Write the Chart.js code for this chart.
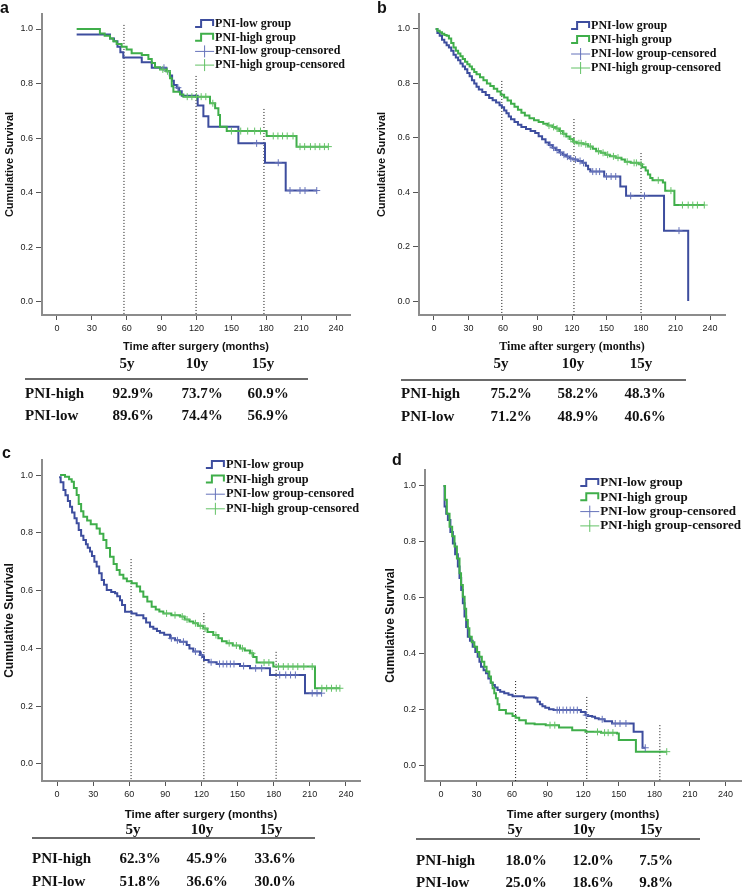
<!DOCTYPE html>
<html>
<head>
<meta charset="utf-8">
<script src="https://cdn.jsdelivr.net/npm/chart.js@4.4.0/dist/chart.umd.min.js"></script>
<style>
body{margin:0;width:746px;height:889px;background:#fff;position:relative;overflow:hidden;}
canvas{position:absolute;}
.t{position:absolute;white-space:nowrap;font:bold 15px "Liberation Serif",serif;color:#111;line-height:1;}
.lt{position:absolute;font:bold 16px "Liberation Sans",Arial,sans-serif;line-height:16px;color:#111;}
.rule{position:absolute;height:2px;background:#6a6a6a;}
</style>
</head>
<body>
<canvas id="pa" width="360" height="358" style="left:0px;top:2px"></canvas>
<canvas id="pb" width="360" height="358" style="left:375px;top:2px"></canvas>
<canvas id="pc" width="370" height="378" style="left:0px;top:448px"></canvas>
<canvas id="pd" width="363" height="368" style="left:383px;top:458px"></canvas>
<script>
// axis ticks and labels
var xTicks = [0, 30, 60, 90, 120, 150, 180, 210, 240];
var yTicks = [0, 0.2, 0.4, 0.6, 0.8, 1.0];
var seriesNames = ['PNI-low group', 'PNI-high group', 'PNI-low group-censored', 'PNI-high group-censored'];
var tableCols = ['5y', '10y', '15y'];
var tableRows = ['PNI-high', 'PNI-low'];

// panel a  [months, survival]
var aLow = [[16.9,0.98],[45.6,0.965],[49,0.955],[52,0.935],[54.5,0.915],[57,0.896],[72.9,0.878],[81.5,0.858],[94,0.845],[97,0.83],[99,0.81],[100.5,0.795],[103,0.785],[105,0.772],[107.3,0.755],[121,0.72],[125.9,0.68],[130.2,0.642],[156,0.581],[178.9,0.51],[196.7,0.408],[223.4,0.408]];
var aHigh = [[16.9,1.0],[36.9,0.984],[41,0.975],[45.6,0.965],[48.4,0.955],[51.3,0.945],[55.6,0.935],[59.9,0.925],[64.2,0.911],[72.9,0.905],[78.6,0.89],[81.5,0.875],[84.3,0.86],[88.6,0.852],[94.3,0.845],[97.2,0.82],[98.7,0.79],[100.1,0.77],[105.8,0.76],[108.7,0.752],[131.6,0.728],[136,0.71],[138.8,0.685],[140.2,0.642],[146,0.626],[180.3,0.608],[206,0.569],[233.4,0.569]];
var aLowCens = [[92,0.858],[104,0.785],[171.7,0.581],[190.3,0.51],[200.4,0.408],[209,0.408],[213.3,0.408],[223.4,0.408]];
var aHighCens = [[91,0.852],[95,0.845],[112,0.752],[116,0.752],[120,0.752],[124,0.752],[128,0.752],[134,0.728],[150,0.626],[158,0.626],[164,0.626],[170,0.626],[175,0.626],[186,0.608],[190,0.608],[194,0.608],[198,0.608],[203,0.608],[209,0.569],[213,0.569],[218,0.569],[222,0.569],[226,0.569],[230,0.569],[233.4,0.569]];
var aMarks = [[57.6,1.015],[119.6,0.828],[178,0.707]];
var aTable = [['92.9%','73.7%','60.9%'],['89.6%','74.4%','56.9%']];

// panel b
var bLow = [[1.5,1.0],[3,0.985],[5,0.975],[7,0.96],[9,0.95],[11,0.94],[13,0.932],[15,0.92],[17,0.905],[19,0.895],[21,0.885],[23,0.873],[25,0.862],[27,0.852],[29,0.838],[31,0.826],[33,0.812],[35,0.8],[37,0.788],[39,0.778],[42,0.768],[45,0.757],[48,0.746],[51,0.738],[54,0.73],[57,0.72],[59,0.712],[61,0.7],[63,0.69],[65,0.678],[67,0.668],[70,0.658],[73,0.648],[76,0.64],[80,0.632],[84,0.625],[88,0.618],[91,0.606],[94,0.595],[97,0.583],[100,0.574],[103,0.564],[106,0.555],[109,0.546],[112,0.538],[115,0.531],[118,0.524],[121,0.52],[125,0.515],[129,0.508],[132,0.497],[134,0.485],[136,0.476],[148,0.458],[162,0.421],[167,0.387],[200,0.259],[221,0.0]];
var bHigh = [[1.5,1.0],[3,0.993],[5,0.988],[7,0.982],[9,0.978],[11,0.975],[13,0.965],[15,0.948],[17,0.932],[19,0.92],[21,0.91],[23,0.9],[25,0.89],[27,0.88],[29,0.87],[31,0.862],[33,0.852],[35,0.842],[37,0.834],[40,0.823],[43,0.812],[46,0.8],[49,0.79],[52,0.78],[55,0.77],[58,0.758],[61,0.748],[64,0.737],[67,0.725],[70,0.714],[73,0.703],[76,0.692],[79,0.682],[83,0.672],[87,0.665],[91,0.658],[95,0.652],[99,0.645],[103,0.64],[106,0.634],[109,0.625],[112,0.615],[115,0.605],[118,0.596],[121,0.586],[124,0.58],[130,0.576],[134,0.568],[138,0.56],[141,0.551],[145,0.545],[149,0.538],[153,0.532],[158,0.527],[163,0.52],[166,0.512],[171,0.508],[178,0.503],[181,0.492],[184,0.48],[186,0.465],[188,0.452],[190,0.444],[199,0.436],[201,0.406],[209,0.353],[235,0.353]];
var bLowCens = [[101,0.574],[104,0.564],[107,0.555],[110,0.546],[113,0.538],[116,0.531],[119,0.524],[123,0.52],[127,0.515],[130,0.508],[138,0.476],[141,0.476],[144,0.476],[150,0.458],[154,0.458],[158,0.458],[171,0.387],[183,0.387],[213,0.259]];
var bHighCens = [[100,0.645],[104,0.64],[107,0.634],[110,0.625],[113,0.615],[119,0.596],[122,0.586],[126,0.58],[128,0.58],[132,0.576],[136,0.568],[143,0.551],[147,0.545],[151,0.538],[156,0.532],[160,0.527],[168,0.512],[174,0.508],[176,0.508],[180,0.503],[195,0.444],[206,0.406],[216,0.353],[221,0.353],[225,0.353],[229,0.353],[235,0.353]];
var bMarks = [[59,0.809],[121.7,0.669],[180,0.544]];
var bTable = [['75.2%','58.2%','48.3%'],['71.2%','48.9%','40.6%']];

// panel c
var cLow = [[1.7,0.992],[3,0.975],[5.3,0.948],[7,0.93],[9,0.91],[10.8,0.89],[12.5,0.87],[14.5,0.85],[16.3,0.833],[18,0.81],[20,0.79],[21.9,0.775],[24,0.76],[25.5,0.748],[27.4,0.735],[29,0.72],[31,0.7],[32.9,0.683],[35,0.66],[37.1,0.637],[39,0.62],[41.3,0.602],[45,0.595],[48.2,0.591],[50,0.58],[52.3,0.567],[54,0.55],[56.5,0.527],[62,0.521],[66,0.515],[71.7,0.504],[74,0.49],[77.2,0.475],[80,0.468],[83,0.46],[85.5,0.454],[89,0.447],[93.9,0.435],[98,0.428],[102.2,0.423],[107.7,0.412],[110,0.4],[113.2,0.389],[118.8,0.377],[121,0.37],[122.1,0.36],[126,0.352],[132.6,0.346],[152,0.339],[160.3,0.331],[176.9,0.308],[206,0.245],[219.8,0.245]];
var cHigh = [[2.5,1.0],[6.6,0.994],[10,0.985],[12.2,0.977],[14,0.955],[16.3,0.931],[18,0.9],[20,0.875],[21.9,0.856],[25,0.843],[28,0.83],[32.9,0.815],[35.5,0.797],[38.5,0.775],[41,0.747],[44,0.717],[47,0.692],[49.6,0.671],[52,0.655],[55.1,0.642],[58,0.632],[62,0.625],[66.2,0.614],[69,0.597],[71.7,0.579],[75,0.562],[78.6,0.544],[82,0.535],[85,0.528],[88.3,0.521],[95,0.515],[102.2,0.51],[106,0.5],[110,0.493],[113.2,0.487],[117,0.478],[121.5,0.469],[125,0.457],[129.8,0.446],[134,0.435],[137,0.425],[140.9,0.418],[146,0.41],[152,0.4],[156,0.393],[160.3,0.383],[163,0.37],[165.8,0.351],[179.7,0.337],[214.3,0.262],[235,0.262]];
var cLowCens = [[95,0.435],[100,0.428],[105,0.423],[115,0.389],[120,0.377],[128,0.352],[135,0.346],[138,0.346],[141,0.346],[144,0.346],[147,0.346],[155,0.339],[165,0.331],[170,0.331],[185,0.308],[190,0.308],[194,0.308],[198,0.308],[212,0.245],[216,0.245],[219.8,0.245]];
var cHighCens = [[91,0.521],[98,0.515],[104,0.51],[108,0.5],[115,0.487],[119,0.478],[123,0.469],[132,0.446],[143,0.418],[149,0.41],[154,0.4],[162,0.383],[172,0.351],[176,0.351],[184,0.337],[188,0.337],[192,0.337],[196,0.337],[200,0.337],[205,0.337],[212,0.337],[220,0.262],[224,0.262],[228,0.262],[232,0.262],[235,0.262]];
var cMarks = [[61.5,0.709],[122,0.522],[182,0.388]];
var cTable = [['62.3%','45.9%','33.6%'],['51.8%','36.6%','30.0%']];

// panel d
var dLow = [[2.2,1.0],[3.1,0.926],[4.5,0.9],[5.9,0.878],[8,0.835],[10.1,0.794],[12,0.755],[14.3,0.711],[15.7,0.67],[17.1,0.627],[18.5,0.58],[19.9,0.532],[21.3,0.495],[22.7,0.46],[24.5,0.445],[26.8,0.424],[29,0.405],[31,0.388],[32.5,0.37],[33.8,0.352],[36,0.34],[38,0.329],[40,0.31],[42,0.295],[43.6,0.287],[45.5,0.278],[47.8,0.269],[50,0.263],[53.4,0.257],[57,0.252],[60.4,0.247],[70,0.242],[80,0.239],[81.4,0.227],[83.5,0.218],[85.6,0.211],[88,0.205],[91.2,0.2],[95,0.197],[118,0.19],[121.9,0.179],[124,0.176],[127.5,0.173],[130,0.168],[133.1,0.164],[138,0.157],[144.3,0.149],[162.5,0.119],[170,0.062],[172.3,0.062]];
var dHigh = [[2.2,1.0],[3.5,0.95],[5,0.9],[7.3,0.854],[9.5,0.82],[11.5,0.783],[13.5,0.74],[15.7,0.687],[17,0.645],[18.5,0.603],[20,0.56],[21.3,0.52],[22.7,0.49],[24,0.46],[26,0.44],[28.2,0.424],[30.5,0.405],[32.4,0.388],[34.5,0.37],[36.6,0.352],[38.5,0.335],[40.8,0.317],[42.2,0.296],[43.6,0.275],[45,0.257],[46.4,0.239],[47.8,0.218],[49.2,0.197],[54.8,0.185],[60.4,0.176],[63,0.17],[66,0.161],[71.6,0.149],[79,0.146],[88.4,0.143],[99.6,0.135],[110.7,0.125],[121.9,0.119],[135,0.116],[148.5,0.113],[150,0.09],[163.9,0.09],[164.4,0.048],[190.4,0.048]];
var dLowCens = [[98,0.197],[100,0.197],[103,0.197],[106,0.197],[109,0.197],[112,0.197],[115,0.197],[122.5,0.179],[136,0.164],[147,0.149],[151,0.149],[156,0.149],[172.3,0.062]];
var dHighCens = [[92,0.143],[96,0.143],[132,0.119],[138,0.116],[141,0.116],[145,0.116],[190.4,0.048]];
var dMarks = [[63,0.301],[123,0.244],[184.6,0.143]];
var dTable = [['18.0%','12.0%','7.5%'],['25.0%','18.6%','9.8%']];

var blue = '#3d4d9e', green = '#3fae4a';
var blueC = '#6572ba', greenC = '#63c266';

function pts(arr) {
  return arr.map(function (p) { return {x: p[0], y: p[1]}; });
}

// legend drawn inside the plot, top right
var kmLegend = {
  id: 'kmLegend',
  afterDraw: function (chart, args, opts) {
    var ctx = chart.ctx, area = chart.chartArea;
    ctx.save();
    ctx.font = 'bold ' + opts.size + 'px "Liberation Serif"';
    var w = 0;
    opts.items.forEach(function (it) { w = Math.max(w, ctx.measureText(it.text).width); });
    var tx = area.right - opts.right - w;
    var ix = tx - 20;
    opts.items.forEach(function (it, i) {
      var y = area.top + opts.top + i * opts.rowH;
      ctx.strokeStyle = it.color;
      ctx.beginPath();
      if (it.kind === 'step') {
        ctx.lineWidth = 2;
        ctx.moveTo(ix, y + 3); ctx.lineTo(ix + 6, y + 3); ctx.lineTo(ix + 6, y - 4);
        ctx.lineTo(ix + 18, y - 4); ctx.lineTo(ix + 18, y + 2);
      } else {
        ctx.lineWidth = 1;
        ctx.moveTo(ix, y); ctx.lineTo(ix + 19, y);
        ctx.moveTo(ix + 9.5, y - 6); ctx.lineTo(ix + 9.5, y + 6);
      }
      ctx.stroke();
      ctx.fillStyle = '#111';
      ctx.textBaseline = 'middle';
      ctx.fillText(it.text, tx, y);
    });
    ctx.restore();
  }
};

var panels = [
  {id: 'pa', low: aLow, high: aHigh, lowC: aLowCens, highC: aHighCens, marks: aMarks,
   xmin: -12.9, xmax: 252, ymin: -0.048, ymax: 1.055, yw: 42, padR: 10,
   yTitle: {size: 11, pad: 3}, xTitle: {family: 'Liberation Sans', size: 11, pad: 6.4},
   legend: {top: 10, rowH: 13.7, right: 5, size: 12}},
  {id: 'pb', low: bLow, high: bHigh, lowC: bLowCens, highC: bHighCens, marks: bMarks,
   xmin: -13, xmax: 253, ymin: -0.051, ymax: 1.055, yw: 44, padR: 10,
   yTitle: {size: 11, pad: 0}, xTitle: {family: 'Liberation Serif', size: 12, pad: 5.8},
   legend: {top: 12, rowH: 14, right: 4, size: 12}},
  {id: 'pc', low: cLow, high: cHigh, lowC: cLowCens, highC: cHighCens, marks: cMarks,
   xmin: -12.5, xmax: 251.7, ymin: -0.059, ymax: 1.052, yw: 42, padR: 10,
   yTitle: {size: 12, pad: 2}, xTitle: {family: 'Liberation Sans', size: 11.5, pad: 4},
   legend: {top: 5, rowH: 14.6, right: 1, size: 12.3}},
  {id: 'pd', low: dLow, high: dHigh, lowC: dLowCens, highC: dHighCens, marks: dMarks,
   xmin: -13.4, xmax: 253, ymin: -0.057, ymax: 1.057, yw: 42, padR: 3,
   yTitle: {size: 12, pad: 0}, xTitle: {family: 'Liberation Sans', size: 11.5, pad: 4},
   legend: {top: 13, rowH: 14.3, right: 0, size: 13}}
];

panels.forEach(function (p) {
  var datasets = [
    {data: pts(p.highC), showLine: false, pointStyle: 'cross', pointRadius: 3.5, pointBorderColor: greenC, pointBorderWidth: 1},
    {data: pts(p.lowC), showLine: false, pointStyle: 'cross', pointRadius: 3.5, pointBorderColor: blueC, pointBorderWidth: 1},
    {data: pts(p.high), borderColor: green, borderWidth: 2, stepped: 'before', pointRadius: 0, fill: false},
    {data: pts(p.low), borderColor: blue, borderWidth: 2, stepped: 'before', pointRadius: 0, fill: false}
  ];
  p.marks.forEach(function (m) {
    datasets.push({data: [{x: m[0], y: m[1]}, {x: m[0], y: p.ymin}], borderColor: '#111',
      borderWidth: 1, borderDash: [1, 2], pointRadius: 0, fill: false});
  });

  new Chart(document.getElementById(p.id), {
    type: 'line',
    data: {datasets: datasets},
    options: {
      responsive: false,
      animation: false,
      events: [],
      layout: {padding: {top: 12, right: p.padR, left: 0, bottom: 0}},
      plugins: {
        legend: {display: false},
        tooltip: {enabled: false},
        kmLegend: {
          top: p.legend.top, rowH: p.legend.rowH, right: p.legend.right, size: p.legend.size,
          items: [
            {text: seriesNames[0], color: blue, kind: 'step'},
            {text: seriesNames[1], color: green, kind: 'step'},
            {text: seriesNames[2], color: blueC, kind: 'cross'},
            {text: seriesNames[3], color: greenC, kind: 'cross'}
          ]
        }
      },
      scales: {
        x: {
          type: 'linear', min: p.xmin, max: p.xmax,
          afterBuildTicks: function (axis) { axis.ticks = xTicks.map(function (v) { return {value: v}; }); },
          afterFit: function (s) { s.height = 45; },
          border: {display: true, color: '#8c8c8c', width: 2},
          grid: {display: true, drawOnChartArea: false, drawTicks: true, tickLength: 5, tickColor: '#555', tickWidth: 1},
          ticks: {font: {family: 'Liberation Sans', size: 9}, color: '#222', padding: 3, maxRotation: 0,
            callback: function (v) { return String(v); }},
          title: {display: true, text: 'Time after surgery (months)', color: '#111',
            font: {family: p.xTitle.family, size: p.xTitle.size, weight: 'bold'},
            padding: {top: 0, bottom: p.xTitle.pad}}
        },
        y: {
          type: 'linear', min: p.ymin, max: p.ymax,
          afterBuildTicks: function (axis) { axis.ticks = yTicks.map(function (v) { return {value: v}; }); },
          afterFit: function (s) { s.width = p.yw; },
          border: {display: true, color: '#8c8c8c', width: 2},
          grid: {display: true, drawOnChartArea: false, drawTicks: true, tickLength: 6, tickColor: '#555', tickWidth: 1},
          ticks: {font: {family: 'Liberation Sans', size: 9}, color: '#222', padding: 3,
            callback: function (v) { return v.toFixed(1); }},
          title: {display: true, text: 'Cumulative Survival', color: '#111',
            font: {family: 'Liberation Sans', size: p.yTitle.size, weight: 'bold'},
            padding: {top: p.yTitle.pad, bottom: 0}}
        }
      }
    },
    plugins: [kmLegend]
  });
});

// panel letters and the survival tables under each plot
var letters = [['a', 0, 0], ['b', 377, 0], ['c', 2, 445], ['d', 392, 452]];
var tableLayout = [
  {tbl: aTable, headY: 363, headX: [127, 197, 263], ruleY: 378, rule: [25, 308], rowY: [393, 415], nameX: 25, valX: [133, 202, 268]},
  {tbl: bTable, headY: 363, headX: [501, 573, 641], ruleY: 379, rule: [401, 686], rowY: [393, 416], nameX: 401, valX: [511, 578, 645]},
  {tbl: cTable, headY: 829, headX: [133, 202, 271], ruleY: 837, rule: [32, 315], rowY: [858, 881], nameX: 32, valX: [140, 207, 275]},
  {tbl: dTable, headY: 829, headX: [515, 584, 651], ruleY: 838, rule: [416, 700], rowY: [860, 882], nameX: 416, valX: [526, 593, 656]}
];

function addText(s, x, y, centered) {
  var d = document.createElement('div');
  d.className = 't';
  d.textContent = s;
  d.style.left = x + 'px';
  d.style.top = y + 'px';
  d.style.transform = centered ? 'translate(-50%,-50%)' : 'translate(0,-50%)';
  document.body.appendChild(d);
}

letters.forEach(function (l) {
  var d = document.createElement('div');
  d.className = 'lt';
  d.textContent = l[0];
  d.style.left = l[1] + 'px';
  d.style.top = l[2] + 'px';
  document.body.appendChild(d);
});

tableLayout.forEach(function (t) {
  tableCols.forEach(function (c, i) { addText(c, t.headX[i], t.headY, true); });
  var r = document.createElement('div');
  r.className = 'rule';
  r.style.left = t.rule[0] + 'px';
  r.style.width = (t.rule[1] - t.rule[0]) + 'px';
  r.style.top = t.ruleY + 'px';
  document.body.appendChild(r);
  tableRows.forEach(function (name, j) {
    addText(name, t.nameX, t.rowY[j], false);
    t.tbl[j].forEach(function (v, i) { addText(v, t.valX[i], t.rowY[j], true); });
  });
});
</script>
</body>
</html>
